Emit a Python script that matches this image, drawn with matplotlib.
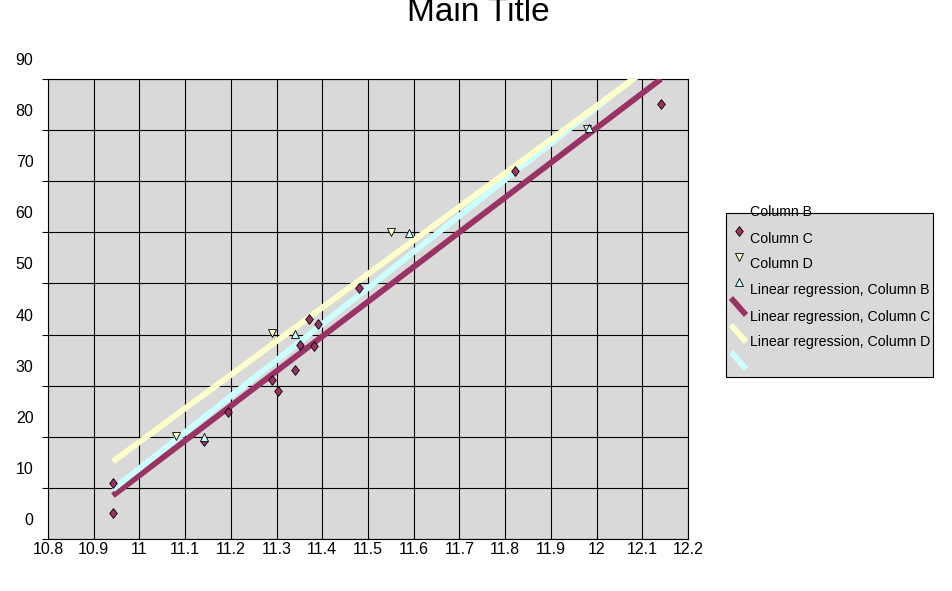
import numpy as np
import matplotlib
matplotlib.use("Agg")
import matplotlib.pyplot as plt
import matplotlib.transforms as mtransforms
from matplotlib.lines import Line2D
from matplotlib.patches import Rectangle

plt.rcParams['font.family'] = ['Liberation Sans', 'DejaVu Sans']

# dados
col_b_x = [10.942, 10.942, 11.141, 11.194, 11.290, 11.303, 11.340, 11.351,
           11.371, 11.382, 11.391, 11.480, 11.822, 12.141]
col_b_y = [10.96, 5.09, 19.17, 24.85, 31.11, 28.96, 33.07, 37.96,
           43.04, 37.76, 42.07, 49.11, 72.0, 85.11]
col_c_x = [11.080, 11.290, 11.550, 11.979]
col_c_y = [20.15, 40.3, 60.07, 80.22]
col_d_x = [11.141, 11.340, 11.590, 11.984]
col_d_y = [19.96, 40.11, 59.87, 80.4]

x_ticks = [10.8, 10.9, 11.0, 11.1, 11.2, 11.3, 11.4, 11.5, 11.6, 11.7, 11.8, 11.9, 12.0, 12.1, 12.2]
x_labels = ['10.8', '10.9', '11', '11.1', '11.2', '11.3', '11.4', '11.5',
            '11.6', '11.7', '11.8', '11.9', '12', '12.1', '12.2']
y_ticks = [0, 10, 20, 30, 40, 50, 60, 70, 80, 90]

series_names = ['Column B', 'Column C', 'Column D']
reg_names = ['Linear regression, Column B', 'Linear regression, Column C',
             'Linear regression, Column D']

purple = '#993366'
yellow = '#FFFFCC'
cyan = '#CCFFFF'
bg = '#D9D9D9'

# losango um pouco mais alto que largo
diamond = [(0, 1), (0.78, 0), (0, -1), (-0.78, 0), (0, 1)]

W, H = 953, 591
fig = plt.figure(figsize=(W / 100, H / 100), dpi=100)
ax = fig.add_axes([48 / W, 1 - 539 / H, 640 / W, 460 / H])
ax.set_facecolor(bg)

# rectas de regressão sobre o intervalo total de x
all_x = np.array(col_b_x + col_c_x + col_d_x)
xr = np.array([all_x.min(), all_x.max()])
fits = {}
for name, xs, ys in zip(series_names, [col_b_x, col_c_x, col_d_x], [col_b_y, col_c_y, col_d_y]):
    fits[name] = np.polyfit(xs, ys, 1)

ax.plot(xr, np.polyval(fits['Column B'], xr), color=purple, lw=4.2, solid_capstyle='butt', zorder=3)
ax.plot(xr, np.polyval(fits['Column D'], xr), color=cyan, lw=4.2, solid_capstyle='butt', zorder=3)
ax.plot(xr, np.polyval(fits['Column C'], xr), color=yellow, lw=4.2, solid_capstyle='butt', zorder=3)

ax.plot(col_b_x, col_b_y, marker=diamond, ls='none', color=purple, mec='black', mew=0.6, ms=7, zorder=4)
ax.plot(col_c_x, col_c_y, 'v', color=yellow, mec='black', mew=0.6, ms=5.5, zorder=4)
ax.plot(col_d_x, col_d_y, '^', color=cyan, mec='black', mew=0.6, ms=5.5, zorder=4)

ax.set_xlim(10.8, 12.2)
ax.set_ylim(0, 90)
ax.set_xticks(x_ticks)
ax.set_xticklabels(x_labels)
ax.set_yticks(y_ticks)
ax.grid(True, color='black', lw=0.8, zorder=1)
ax.set_axisbelow(True)
for s in ax.spines.values():
    s.set_color('black')
    s.set_linewidth(0.8)
ax.tick_params(axis='x', length=0, pad=2, labelsize=11.5)
ax.tick_params(axis='y', length=4.5, width=0.8, pad=6, labelsize=11.5, direction='out')

# etiquetas do eixo y deslocadas para cima, como no original
offset = mtransforms.ScaledTranslation(0, 20 / 100, fig.dpi_scale_trans)
for lab in ax.get_yticklabels():
    lab.set_transform(lab.get_transform() + offset)

fig.text(478 / W, 1 - 21 / H, 'Main Title', ha='center', va='baseline', fontsize=24)

# legenda (desalinhada como no original)
def fx(px):
    return px / W

def fy(py):
    return 1 - py / H

fig.add_artist(Rectangle((fx(726), fy(377)), fx(933) - fx(726), (377 - 213) / H,
                         transform=fig.transFigure, facecolor=bg, edgecolor='black', lw=0.8))
text_y = [212, 239, 264, 290, 317, 342]
for ty, lbl in zip(text_y, series_names + reg_names):
    fig.text(fx(750), fy(ty), lbl, ha='left', va='center', fontsize=10.2)

fig.add_artist(Line2D([fx(739)], [fy(231)], marker=diamond, color=purple, mec='black', mew=0.6, ms=7,
                      transform=fig.transFigure))
fig.add_artist(Line2D([fx(739)], [fy(257)], marker='v', color=yellow, mec='black', mew=0.6, ms=5.5,
                      transform=fig.transFigure))
fig.add_artist(Line2D([fx(739)], [fy(282)], marker='^', color=cyan, mec='black', mew=0.6, ms=5.5,
                      transform=fig.transFigure))
for y0, c in zip([298, 325, 352], [purple, yellow, cyan]):
    fig.add_artist(Line2D([fx(731), fx(746)], [fy(y0), fy(y0 + 17)], color=c, lw=4.2,
                          solid_capstyle='butt', transform=fig.transFigure))

fig.savefig('out.png', dpi=100)
